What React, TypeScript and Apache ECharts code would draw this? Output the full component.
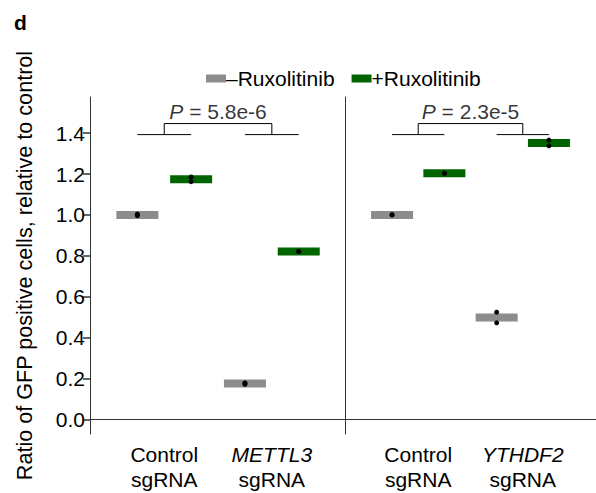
import React, { useEffect, useRef } from "react";
import * as echarts from "echarts";

// ---- data ----
const leftGroups = ["Control\nsgRNA", "METTL3\nsgRNA"];
const rightGroups = ["Control\nsgRNA", "YTHDF2\nsgRNA"];
const treatments = ["–Ruxolitinib", "+Ruxolitinib"];
const colors = ["#8c8c8c", "#006400"];

// means [group][treatment]
const leftMeans = [
  [1.0, 1.175],
  [0.175, 0.821],
];
const rightMeans = [
  [1.0, 1.204],
  [0.498, 1.352],
];
// replicate points [group][treatment][]
const leftPoints = [
  [[1.004, 0.997, 1.0], [1.186, 1.163]],
  [[0.171, 0.178, 0.175], [0.821, 0.821]],
];
const rightPoints = [
  [[1.0, 1.001], [1.204, 1.204]],
  [[0.524, 0.472], [1.366, 1.338]],
];
const leftP = "5.8e-6";
const rightP = "2.3e-5";
const bracketLow = 1.393;
const bracketHigh = 1.447;
const yTicks = [0, 0.2, 0.4, 0.6, 0.8, 1.0, 1.2, 1.4];
const yMin = -0.072;
const yMax = 1.577;
const dodge = 0.25;

const FONT = "'Liberation Sans', Arial, Helvetica, sans-serif";
const FS = 21;

function panelSeries(
  idx: number,
  means: number[][],
  points: number[][][],
  pText: string
): any[] {
  const s: any[] = [];
  treatments.forEach((t, ti) => {
    const off = ti === 0 ? -dodge : dodge;
    s.push({
      name: t,
      type: "scatter",
      xAxisIndex: idx,
      yAxisIndex: idx,
      symbol: "rect",
      symbolSize: [42, 8],
      itemStyle: { color: colors[ti], opacity: 1 },
      data: means.map((m, gi) => [gi + 1 + off, m[ti]]),
      z: 2,
      silent: true,
    });
    const pts: number[][] = [];
    points.forEach((g, gi) => g[ti].forEach((v) => pts.push([gi + 1 + off, v])));
    s.push({
      name: "pts" + idx + "_" + ti,
      type: "scatter",
      xAxisIndex: idx,
      yAxisIndex: idx,
      symbol: "circle",
      symbolSize: 5,
      itemStyle: { color: "#000", opacity: 1 },
      data: pts,
      z: 3,
      silent: true,
    });
  });
  const lineStyle = { color: "#000", width: 1 };
  const brackets = [
    [[1 - dodge, bracketLow], [1 + dodge, bracketLow]],
    [[1, bracketLow], [1, bracketHigh], [2, bracketHigh], [2, bracketLow]],
    [[2 - dodge, bracketLow], [2 + dodge, bracketLow]],
  ];
  brackets.forEach((b, bi) => {
    s.push({
      name: "br" + idx + "_" + bi,
      type: "line",
      xAxisIndex: idx,
      yAxisIndex: idx,
      data: b,
      symbol: "none",
      lineStyle,
      silent: true,
      z: 1,
    });
  });
  s.push({
    name: "p" + idx,
    type: "scatter",
    xAxisIndex: idx,
    yAxisIndex: idx,
    symbolSize: 0,
    data: [[1.5, bracketHigh]],
    silent: true,
    label: {
      show: true,
      position: "top",
      distance: 2,
      formatter: "{i|P}{n| = " + pText + "}",
      rich: {
        i: { fontStyle: "italic", fontSize: FS, fontFamily: FONT, color: "#000" },
        n: { fontSize: FS, fontFamily: FONT, color: "#000" },
      },
    },
  });
  return s;
}

function xAxisFor(idx: number, groups: string[], min: number, max: number): any {
  return {
    type: "value",
    gridIndex: idx,
    min,
    max,
    splitLine: { show: false },
    axisLine: { show: true, lineStyle: { color: "#333", width: 1 } },
    axisTick: { show: false },
    axisLabel: {
      show: true,
      customValues: [1, 2],
      margin: 8,
      formatter: (v: number) => {
        const g = groups[Math.round(v) - 1] || "";
        const [a, b] = g.split("\n");
        const first = a === "Control" ? "{n|" + a + "}" : "{i|" + a + "}";
        return first + "\n{n|" + b + "}";
      },
      rich: {
        n: { fontSize: FS, fontFamily: FONT, color: "#000", lineHeight: 25 },
        i: { fontSize: FS, fontFamily: FONT, color: "#000", fontStyle: "italic", lineHeight: 25 },
      },
    },
  };
}

export default function App() {
  const ref = useRef<HTMLDivElement>(null);
  useEffect(() => {
    if (!ref.current) return;
    const chart = echarts.init(ref.current, null, { renderer: "svg" });
    const option: any = {
      animation: false,
      backgroundColor: "#fff",
      textStyle: { fontFamily: FONT },
      title: {
        text: "d",
        left: 9,
        top: 7,
        textStyle: { fontSize: FS, fontWeight: "bold", fontFamily: FONT, color: "#000" },
      },
      legend: {
        data: treatments,
        left: 206,
        top: 68,
        padding: 0,
        itemWidth: 20,
        itemHeight: 8,
        itemGap: 17,
        icon: "rect",
        selectedMode: false,
        textStyle: { fontSize: FS, fontFamily: FONT, color: "#000", padding: [0, 0, 0, -5] },
      },
      grid: [
        { left: 90, top: 97, width: 255, height: 337 },
        { left: 345, top: 97, width: 258, height: 337 },
      ],
      xAxis: [xAxisFor(0, leftGroups, 0.31, 2.68), xAxisFor(1, rightGroups, 0.3, 2.7)],
      yAxis: [
        {
          type: "value",
          gridIndex: 0,
          min: yMin,
          max: yMax,
          name: "Ratio of GFP positive cells, relative to control",
          nameLocation: "middle",
          nameGap: 55,
          nameTextStyle: { fontSize: 21.6, fontFamily: FONT, color: "#000" },
          splitLine: { show: false },
          axisLine: { show: true, lineStyle: { color: "#333", width: 1 } },
          axisTick: { show: true, length: 7, customValues: yTicks, lineStyle: { color: "#333", width: 1.5 } },
          axisLabel: {
            show: true,
            customValues: yTicks,
            margin: 5,
            fontSize: FS,
            fontFamily: FONT,
            color: "#000",
            formatter: (v: number) => v.toFixed(1),
          },
        },
        {
          type: "value",
          gridIndex: 1,
          min: yMin,
          max: yMax,
          splitLine: { show: false },
          axisLine: { show: true, lineStyle: { color: "#333", width: 1 } },
          axisTick: { show: false },
          axisLabel: { show: false },
        },
      ],
      series: [
        ...panelSeries(0, leftMeans, leftPoints, leftP),
        ...panelSeries(1, rightMeans, rightPoints, rightP),
      ],
    };
    chart.setOption(option);
    return () => chart.dispose();
  }, []);
  return <div ref={ref} style={{ width: 596, height: 493, position: "absolute", left: 0, top: 0 }} />;
}
